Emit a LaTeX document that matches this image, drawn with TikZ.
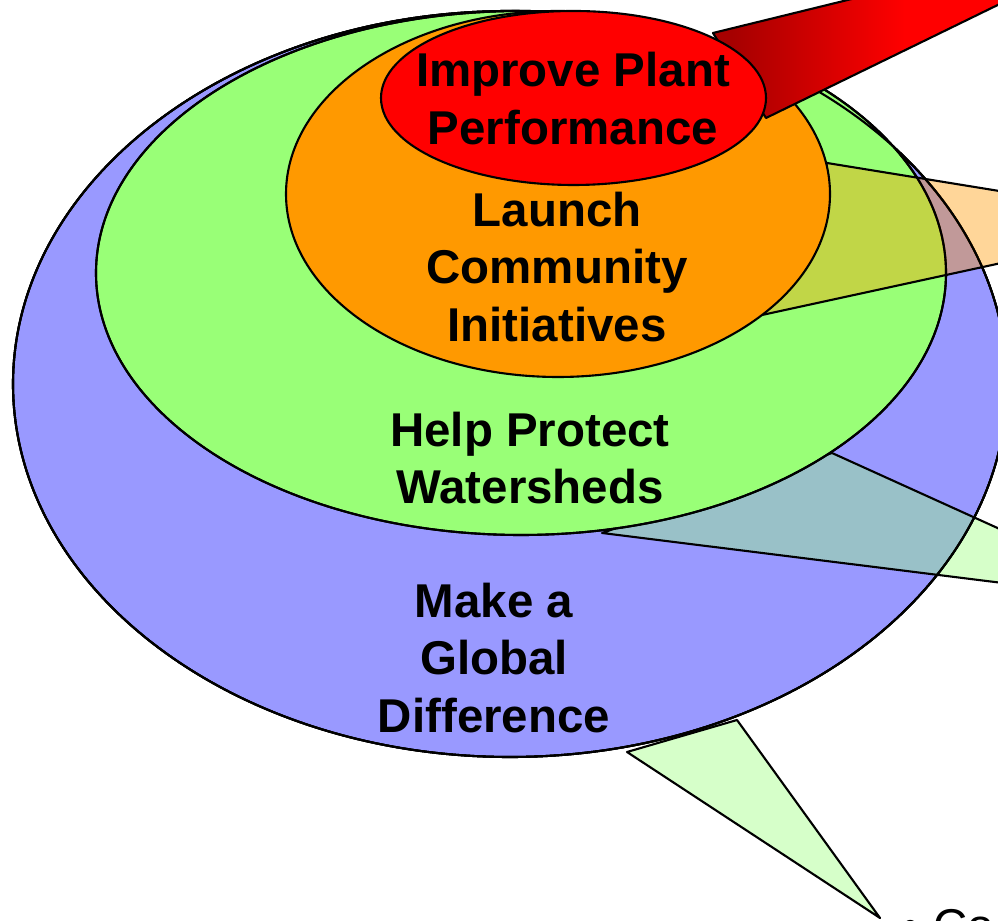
\documentclass[tikz,border=0pt]{standalone}
\usepackage{fontspec}
\setmainfont{Liberation Sans}
\definecolor{goalblue}{RGB}{153,153,255}
\definecolor{goalgreen}{RGB}{153,255,119}
\definecolor{goalorange}{RGB}{255,153,0}
\pgfdeclarehorizontalshading{redwedge}{100bp}{color(0bp)=(red!65!black); color(27bp)=(red!65!black); color(46bp)=(red); color(100bp)=(red)}
\tikzset{
  wedge/.style={line join=round,fill opacity=.4},
  words/.style={font=\fontsize{13.5}{16.3}\selectfont\bfseries,align=center}
}
\begin{document}
\begin{tikzpicture}[x=.1mm,y=-.1mm,line width=.6pt]
\useasboundingbox (0,0) rectangle (998,921);
\clip (0,0) rectangle (998,921);
\coordinate (global) at (510,384);
\coordinate (watershed) at (521,273);
\coordinate (community) at (558,194);
\coordinate (plant) at (573.5,98);
\coordinate (global tip) at (880,918);
\coordinate (watershed tip) at (1163,603);
\coordinate (community tip) at (1190,222);
\coordinate (plant tip) at (1170,-79);
% blue ring
\filldraw[wedge,fill=goalgreen] (627,752) -- (global tip) -- (737,720) -- cycle;
\filldraw[fill=goalblue] (global) ellipse [x radius=497,y radius=373];
% green ring
\filldraw[wedge,fill=goalgreen] (602,533) -- (watershed tip) -- (832,453) -- cycle;
\draw (global) ellipse [x radius=497,y radius=373];
\filldraw[fill=goalgreen] (watershed) ellipse [x radius=425,y radius=262];
% orange ring
\filldraw[wedge,fill=goalorange] (762,315) -- (community tip) -- (827,163) -- cycle;
\draw (global) ellipse [x radius=497,y radius=373] (watershed) ellipse [x radius=425,y radius=262];
\filldraw[fill=goalorange] (community) ellipse [x radius=272,y radius=183];
% red ring
\shadedraw[line join=round,shading=redwedge] (766,118) -- (plant tip) -- (713,33) -- cycle;
\filldraw[fill=red] (plant) ellipse [x radius=192.5,y radius=87];
\node[words] (plant text) at (573,98.5) {Improve Plant\\Performance};
\node[words] (community text) at (557,267) {Launch\\Community\\Initiatives};
\node[words] (watershed text) at (530,458) {Help Protect\\Watersheds};
\node[words] (global text) at (494,658) {Make a\\Global\\Difference};
\node[anchor=base west,font=\fontsize{13.5}{16.3}\selectfont] (bullet) at (890,942) {•\hspace{.3em}Co};
\end{tikzpicture}
\end{document}
